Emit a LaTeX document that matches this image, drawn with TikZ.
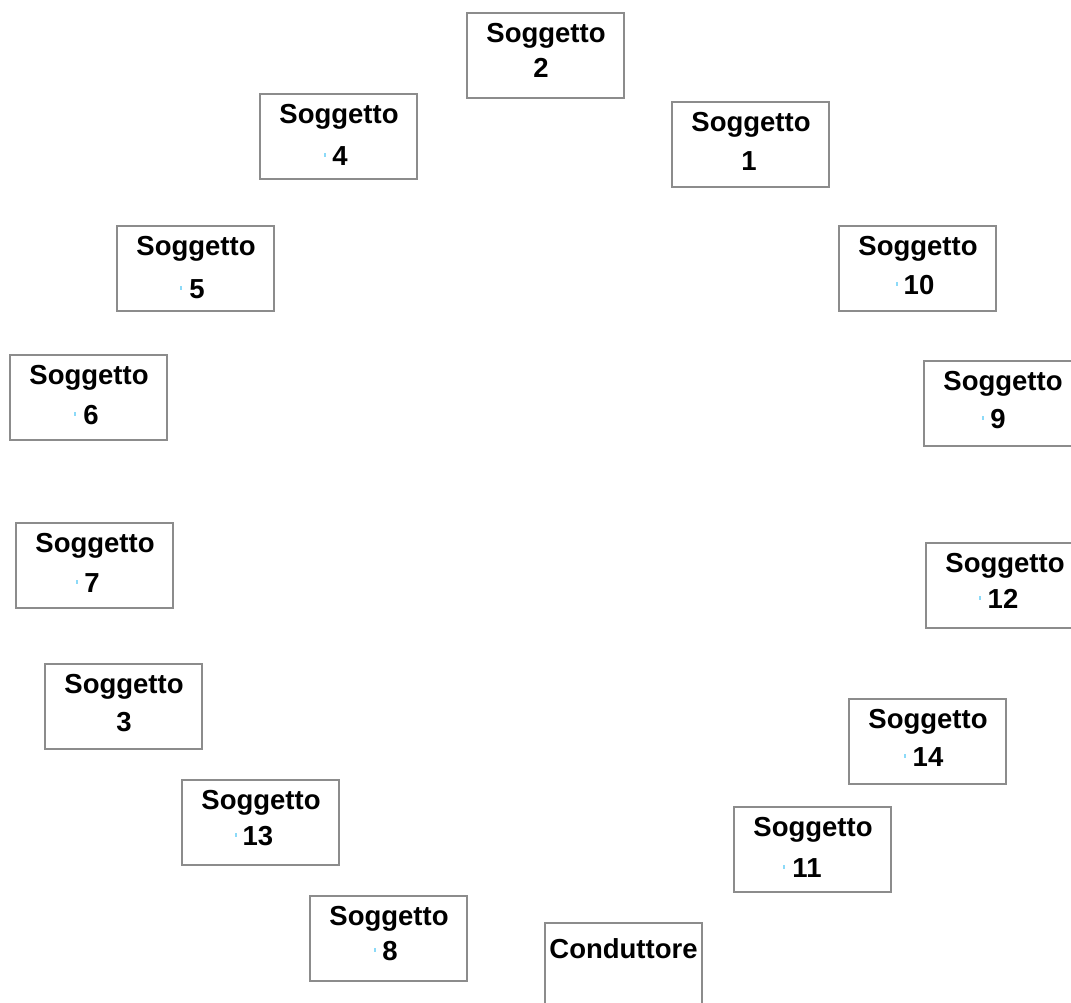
\documentclass[tikz,border=0pt]{standalone}
\usepackage{fontspec}
\setmainfont{Liberation Sans}
\begin{document}
\begin{tikzpicture}[x=1pt,y=-1pt,
  box/.style={draw=black!45,line width=1.3pt,fill=white,rectangle,anchor=north west,
    minimum width=157pt,minimum height=85pt,inner sep=0pt,outer sep=0pt},
  lbl/.style={font=\fontsize{27.5}{30}\selectfont\bfseries,inner sep=0pt,anchor=base},
  bluedot/.style={fill=cyan!45,draw=none,minimum width=1.6pt,minimum height=4pt,inner sep=0pt}]
\useasboundingbox[fill=white] (0,0) rectangle (1071,1002);
% one subject card: name, left, top, number x, number baseline, dot x (empty = none), number
\newcommand\subjcard[7]{%
  \node[box] (#1) at (#2,#3) {};
  \node[lbl] (#1-t) at ([xshift=0.5pt,yshift=-29pt]#1.north) {Soggetto};
  \node[lbl] (#1-n) at (#4,#5) {#7};
  \if\relax\detokenize{#6}\relax\else
    \node[bluedot] (#1-d) at (#6,#5-10) {};
  \fi}
\subjcard{s2}{467}{13}{541}{77}{}{2}
\subjcard{s4}{260}{94}{340}{165}{325}{4}
\subjcard{s1}{672}{102}{749}{170}{}{1}
\subjcard{s5}{117}{226}{197}{298}{181}{5}
\subjcard{s10}{839}{226}{919}{294}{897}{10}
\subjcard{s6}{10}{355}{91}{424}{75}{6}
\subjcard{s9}{924}{361}{998}{428}{983}{9}
\subjcard{s7}{16}{523}{92}{592}{77}{7}
\subjcard{s12}{926}{543}{1003}{608}{980}{12}
\subjcard{s3}{45}{664}{124}{731}{}{3}
\subjcard{s14}{849}{699}{928}{766}{905}{14}
\subjcard{s13}{182}{780}{258}{845}{236}{13}
\subjcard{s11}{734}{807}{807}{877}{784}{11}
\subjcard{s8}{310}{896}{390}{960}{375}{8}
% the driver's card runs off the bottom edge
\node[box,minimum height=100pt] (cond) at (545,923) {};
\node[lbl] (cond-t) at (623.5,958) {Conduttore};
\end{tikzpicture}
\end{document}
